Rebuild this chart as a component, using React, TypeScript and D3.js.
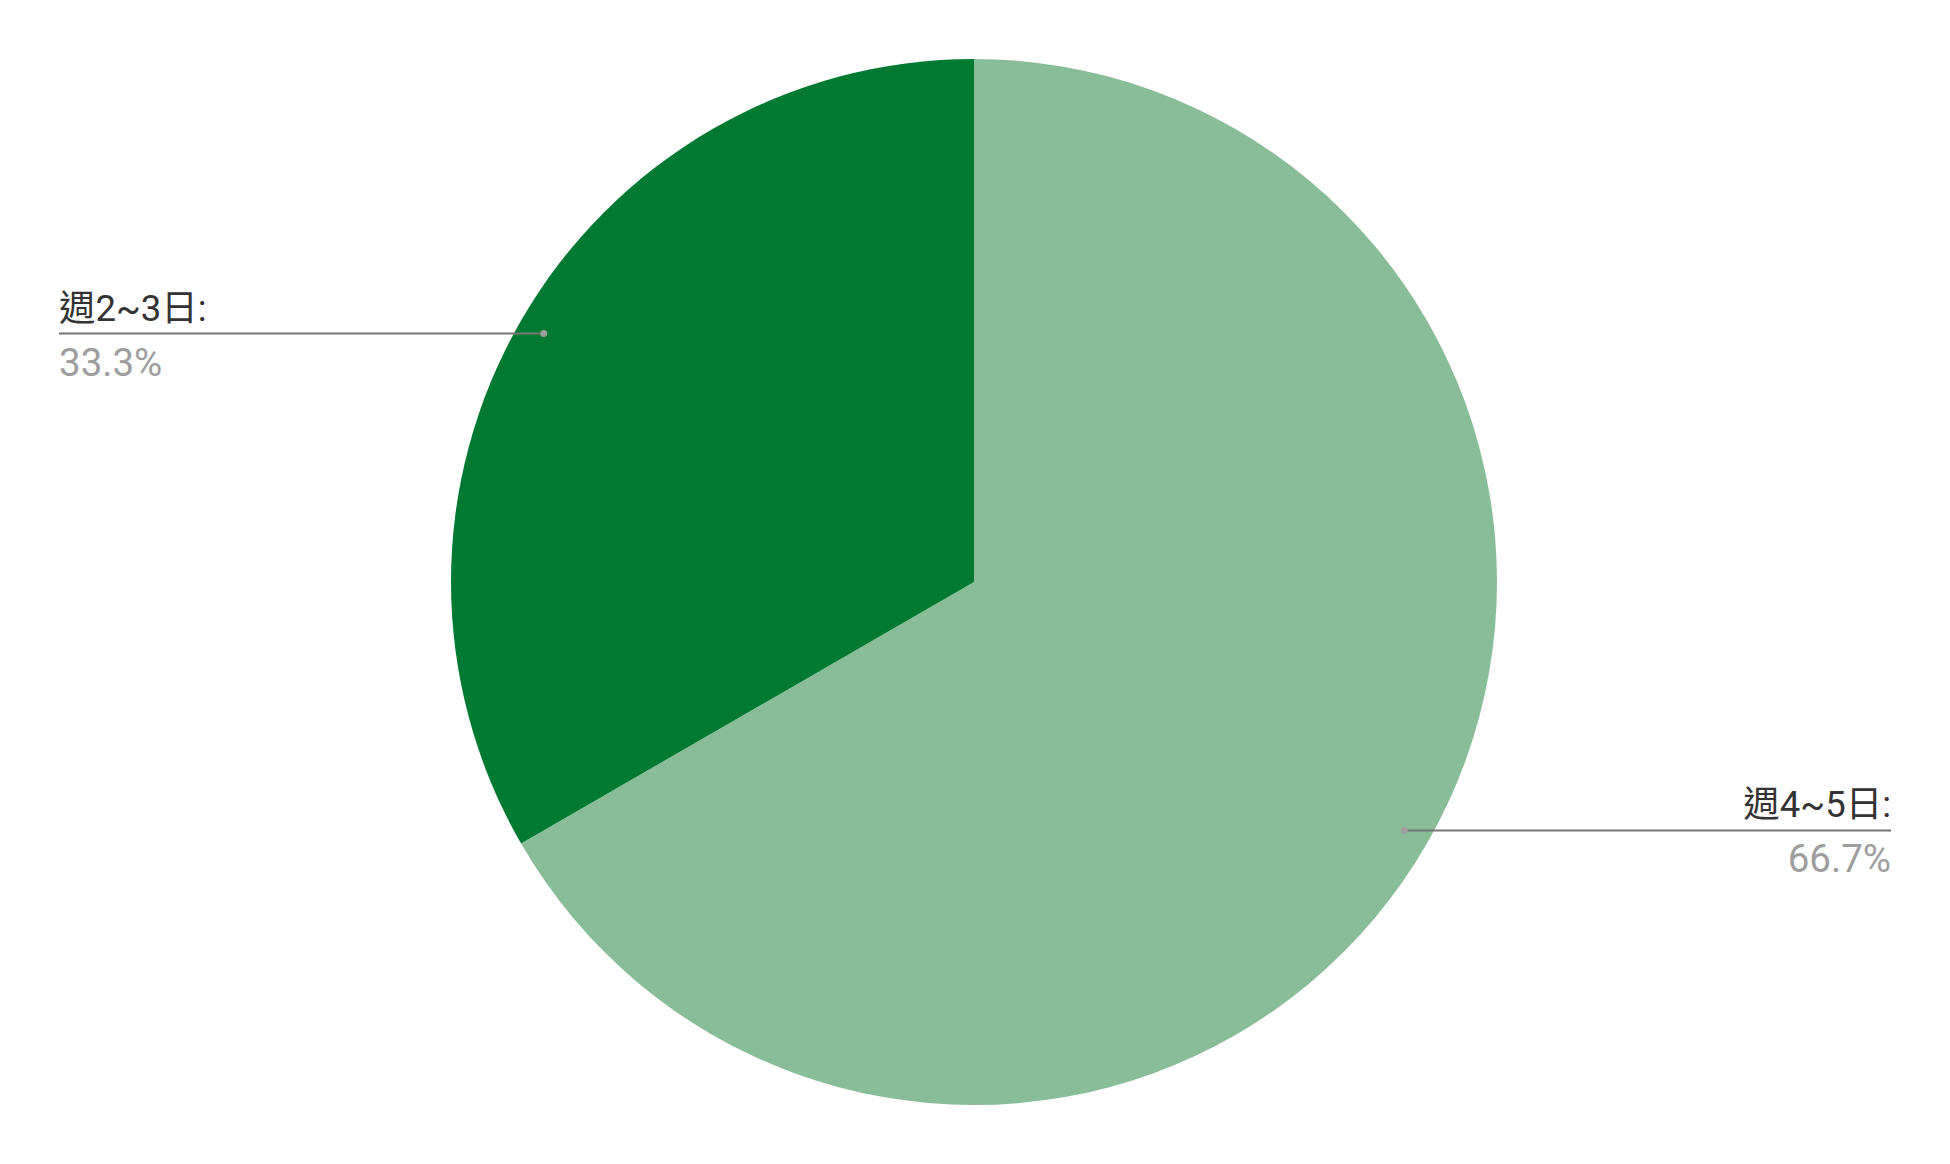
import React from "react";
import * as d3 from "d3";

const categories = ["週4~5日", "週2~3日"];
const values = [2, 1];
const colors = ["#89bd98", "#007a33"];

const W = 1950;
const H = 1164;

export default function App() {
  const cx = 974;
  const cy = 582;
  const r = 523;
  const total = d3.sum(values);
  const pie = d3.pie<number>().sort(null).value((d) => d)(values);
  const arc = d3.arc<d3.PieArcDatum<number>>().innerRadius(0).outerRadius(r);
  const dotArc = d3.arc<d3.PieArcDatum<number>>().innerRadius(r * 0.95).outerRadius(r * 0.95);
  const fmt = d3.format(".1%");
  const leftX = 59;
  const rightX = 1891;
  return (
    <svg width={W} height={H} style={{ position: "absolute", left: 0, top: 0, background: "#fff" }}
      fontFamily="Roboto, 'Noto Sans CJK TC', sans-serif">
      <g transform={`translate(${cx},${cy})`}>
        {pie.map((p, i) => (
          <path key={i} d={arc(p) || ""} fill={colors[i]} />
        ))}
      </g>
      {pie.map((p, i) => {
        const mid = (p.startAngle + p.endAngle) / 2;
        const pt = dotArc.centroid({ ...p, startAngle: mid, endAngle: mid } as any);
        const dx = cx + pt[0];
        const dy = cy + pt[1];
        const right = pt[0] > 0;
        const lx = right ? rightX : leftX;
        const anchor = right ? "end" : "start";
        return (
          <g key={"l" + i}>
            <line x1={dx} y1={dy} x2={lx} y2={dy} stroke="#757575" strokeWidth={2} />
            <circle cx={dx} cy={dy} r={3.5} fill="#9e9e9e" />
            <text x={lx} y={dy - 13} textAnchor={anchor} fontSize={36.5} fill="#333">
              {categories[i]}:
            </text>
            <text x={lx} y={dy + 42} textAnchor={anchor} fontSize={38.5} fill="#9e9e9e">
              {fmt(values[i] / total)}
            </text>
          </g>
        );
      })}
    </svg>
  );
}
